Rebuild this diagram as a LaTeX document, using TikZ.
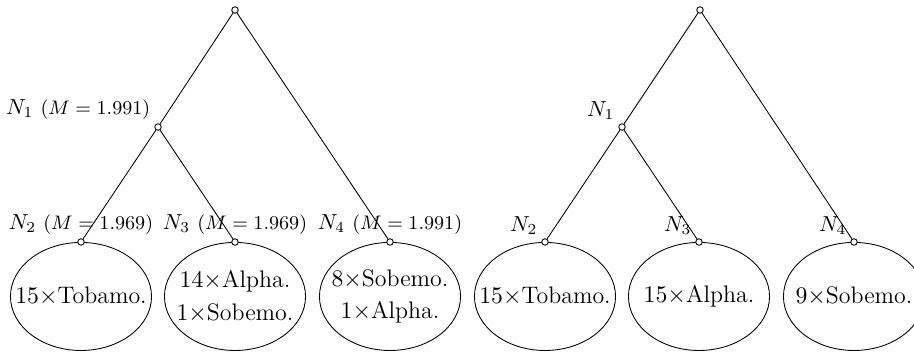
\documentclass[tikz,border=0pt]{standalone}
\usetikzlibrary{shapes.geometric}
\tikzset{
  pt/.style={circle,draw,fill=white,inner sep=0pt,minimum size=3pt},
  leaf/.style={ellipse,draw,inner sep=0pt,minimum width=64.9pt,minimum height=49.7pt,anchor=north},
  leaftext/.style={inner sep=0pt,align=center,font=\fontsize{11}{15}\selectfont},
  lblc/.style={anchor=south},
  lble/.style={anchor=south east},
}
\begin{document}
\begin{tikzpicture}[x=0.46pt,y=-0.46pt]
\useasboundingbox (0,0) rectangle (914,353);
% left tree
\coordinate (ar) at (235,10);
\coordinate (a1) at (158,127);
\coordinate (a2) at (81,242);
\coordinate (a3) at (235,242);
\coordinate (a4) at (390,242);
\node[leaf] (ea2) at (a2) {};
\node[leaf] (ea3) at (a3) {};
\node[leaf] (ea4) at (a4) {};
\node[leaftext] (ta2) at (ea2.center) {$15\times$Tobamo.};
\node[leaftext] (ta3) at (ea3.center) {$14\times$Alpha.\\$1\times$Sobemo.};
\node[leaftext] (ta4) at (ea4.center) {$8\times$Sobemo.\\$1\times$Alpha.};
\node[pt] (nar) at (ar) {};
\node[pt] (na1) at (a1) {};
\node[pt] (na2) at (a2) {};
\node[pt] (na3) at (a3) {};
\node[pt] (na4) at (a4) {};
\draw (nar) -- (na1);
\draw (nar) -- (na4);
\draw (na1) -- (na2);
\draw (na1) -- (na3);
\node[lble] (la1) at (a1) {$N_1$~{\small($M=1.991$)}};
\node[lblc] (la2) at (a2) {$N_2$~{\small($M=1.969$)}};
\node[lblc] (la3) at (a3) {$N_3$~{\small($M=1.969$)}};
\node[lblc] (la4) at (a4) {$N_4$~{\small($M=1.991$)}};
% right tree
\coordinate (br) at (700,10);
\coordinate (b1) at (622,127);
\coordinate (b2) at (545,242);
\coordinate (b3) at (699,242);
\coordinate (b4) at (854,242);
\node[leaf] (eb2) at (b2) {};
\node[leaf] (eb3) at (b3) {};
\node[leaf] (eb4) at (b4) {};
\node[leaftext] (tb2) at (eb2.center) {$15\times$Tobamo.};
\node[leaftext] (tb3) at (eb3.center) {$15\times$Alpha.};
\node[leaftext] (tb4) at (eb4.center) {$9\times$Sobemo.};
\node[pt] (nbr) at (br) {};
\node[pt] (nb1) at (b1) {};
\node[pt] (nb2) at (b2) {};
\node[pt] (nb3) at (b3) {};
\node[pt] (nb4) at (b4) {};
\draw (nbr) -- (nb1);
\draw (nbr) -- (nb4);
\draw (nb1) -- (nb2);
\draw (nb1) -- (nb3);
\node[lble] (lb1) at (b1) {$N_1$};
\node[lble] (lb2) at (b2) {$N_2$};
\node[lble] (lb3) at (b3) {$N_3$};
\node[lble] (lb4) at (b4) {$N_4$};
\end{tikzpicture}
\end{document}
